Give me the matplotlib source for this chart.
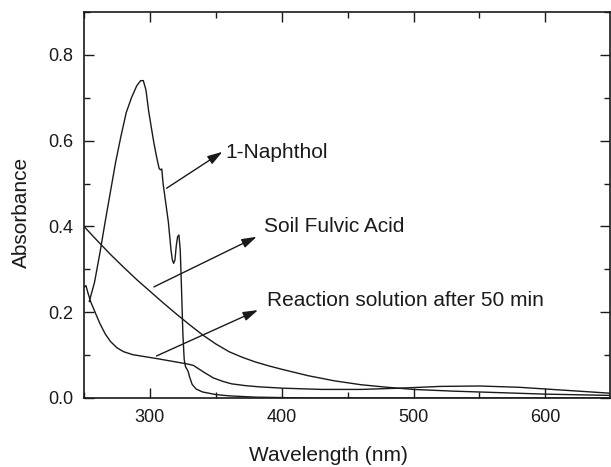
import matplotlib
matplotlib.use("Agg")
import matplotlib.pyplot as plt
from matplotlib.ticker import MultipleLocator

# ---------------------------------------------------------------- data
naphthol_nm = [254, 258, 262, 266, 270, 274, 278, 282, 286, 290, 293, 295, 297, 299,
               301, 303, 305, 307, 308, 309, 310, 312, 314, 316, 317, 318, 319, 320,
               321, 322, 323, 324, 325, 326, 327, 329, 330, 332, 335, 340, 350, 360,
               380, 420, 650]
naphthol_abs = [0.225, 0.27, 0.337, 0.41, 0.48, 0.55, 0.61, 0.665, 0.70, 0.728, 0.740,
                0.740, 0.718, 0.67, 0.632, 0.595, 0.563, 0.535, 0.532, 0.534, 0.50,
                0.455, 0.41, 0.345, 0.322, 0.314, 0.322, 0.355, 0.376, 0.38, 0.345,
                0.252, 0.15, 0.09, 0.073, 0.062, 0.05, 0.032, 0.021, 0.014, 0.008,
                0.005, 0.002, 0.0, 0.0]

fulvic_nm = [250, 260, 270, 280, 290, 300, 310, 320, 330, 340, 350, 360, 370, 380,
             390, 400, 420, 440, 460, 480, 500, 530, 560, 600, 650]
fulvic_abs = [0.400, 0.367, 0.335, 0.305, 0.276, 0.249, 0.222, 0.196, 0.171, 0.147,
              0.126, 0.108, 0.095, 0.084, 0.075, 0.067, 0.052, 0.040, 0.031, 0.025,
              0.020, 0.016, 0.013, 0.009, 0.006]

reaction_nm = [250, 251.5, 253, 255, 258, 262, 266, 270, 275, 280, 287, 295, 305, 318,
               329, 333, 337, 341, 348, 355, 362, 372, 383, 400, 430, 460, 490, 520,
               550, 580, 610, 650]
reaction_abs = [0.258, 0.262, 0.245, 0.225, 0.203, 0.174, 0.15, 0.132, 0.117, 0.108,
                0.101, 0.097, 0.092, 0.085, 0.079, 0.076, 0.068, 0.060, 0.047, 0.039,
                0.033, 0.029, 0.026, 0.023, 0.020, 0.020, 0.023, 0.027, 0.028, 0.025,
                0.019, 0.011]

labels = ["1-Naphthol", "Soil Fulvic Acid", "Reaction solution after 50 min"]

# ---------------------------------------------------------------- style
plt.rcParams['font.family'] = ['Liberation Sans', 'DejaVu Sans']
ink = '#1a1a1a'
W, H = 611, 467

fig = plt.figure(figsize=(W / 100, H / 100), dpi=100)
ax = fig.add_axes([84 / W, 69 / H, 526 / W, 386 / H])

for x, y in [(naphthol_nm, naphthol_abs), (fulvic_nm, fulvic_abs), (reaction_nm, reaction_abs)]:
    ax.plot(x, y, color=ink, lw=1.0)

ax.set_xlim(250, 649)
ax.set_ylim(0, 0.9)
ax.xaxis.set_major_locator(MultipleLocator(100))
ax.xaxis.set_minor_locator(MultipleLocator(50))
ax.yaxis.set_major_locator(MultipleLocator(0.2))
ax.yaxis.set_minor_locator(MultipleLocator(0.1))
ax.set_yticks([0, 0.2, 0.4, 0.6, 0.8])
ax.set_yticklabels(["0.0", "0.2", "0.4", "0.6", "0.8"])
ax.tick_params(which='both', direction='in', top=True, right=True, colors=ink,
               labelsize=13, width=1.0)
ax.tick_params(which='major', length=7, pad=8)
ax.tick_params(which='minor', length=4)
for s in ax.spines.values():
    s.set_linewidth(1.2)
    s.set_color(ink)

ax.set_xlabel("Wavelength (nm)", fontsize=15, color=ink)
ax.set_ylabel("Absorbance", fontsize=15, color=ink)
ax.xaxis.set_label_coords(0.465, -0.125)
ax.yaxis.set_label_coords(-0.10, 0.48)

# ---------------------------------------------------------------- arrows + labels
arrows = [((312.6, 0.489), (355, 0.574), (357.5, 0.573)),
          ((303, 0.259), (381, 0.376), (386.5, 0.399)),
          ((305, 0.098), (382, 0.205), (389, 0.228))]
for (tail, head, txt), lab in zip(arrows, labels):
    ax.annotate("", xy=head, xytext=tail,
                arrowprops=dict(arrowstyle='-|>,head_length=0.9,head_width=0.28',
                                mutation_scale=10, color=ink, lw=1.0,
                                shrinkA=0, shrinkB=0))
    ax.text(txt[0], txt[1], lab, fontsize=15, color=ink, ha='left', va='center')

fig.savefig("out.png", dpi=100)
